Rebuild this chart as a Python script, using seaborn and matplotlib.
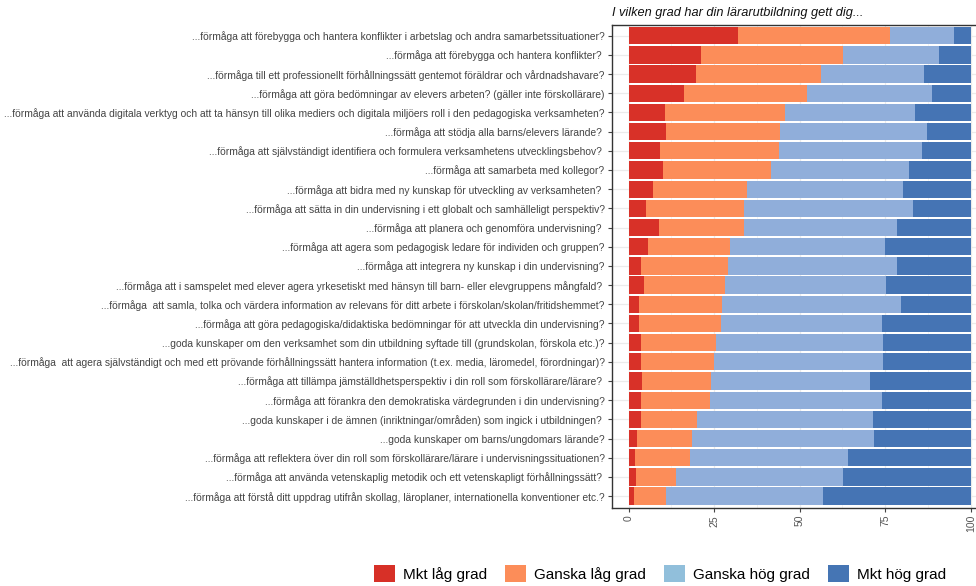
import numpy as np
import pandas as pd
import matplotlib
matplotlib.use("Agg")
import matplotlib.pyplot as plt
from matplotlib.patches import Patch
from matplotlib.ticker import MultipleLocator
import seaborn as sns

labels = [
    "...förmåga att förebygga och hantera konflikter i arbetslag och andra samarbetssituationer?",
    "...förmåga att förebygga och hantera konflikter? ",
    "...förmåga till ett professionellt förhållningssätt gentemot föräldrar och vårdnadshavare?",
    "...förmåga att göra bedömningar av elevers arbeten? (gäller inte förskollärare)",
    "...förmåga att använda digitala verktyg och att ta hänsyn till olika mediers och digitala miljöers roll i den pedagogiska verksamheten?",
    "...förmåga att stödja alla barns/elevers lärande? ",
    "...förmåga att självständigt identifiera och formulera verksamhetens utvecklingsbehov? ",
    "...förmåga att samarbeta med kollegor?",
    "...förmåga att bidra med ny kunskap för utveckling av verksamheten? ",
    "...förmåga att sätta in din undervisning i ett globalt och samhälleligt perspektiv?",
    "...förmåga att planera och genomföra undervisning? ",
    "...förmåga att agera som pedagogisk ledare för individen och gruppen?",
    "...förmåga att integrera ny kunskap i din undervisning?",
    "...förmåga att i samspelet med elever agera yrkesetiskt med hänsyn till barn- eller elevgruppens mångfald? ",
    "...förmåga  att samla, tolka och värdera information av relevans för ditt arbete i förskolan/skolan/fritidshemmet?",
    "...förmåga att göra pedagogiska/didaktiska bedömningar för att utveckla din undervisning?",
    "...goda kunskaper om den verksamhet som din utbildning syftade till (grundskolan, förskola etc.)?",
    "...förmåga  att agera självständigt och med ett prövande förhållningssätt hantera information (t.ex. media, läromedel, förordningar)?",
    "...förmåga att tillämpa jämställdhetsperspektiv i din roll som förskollärare/lärare? ",
    "...förmåga att förankra den demokratiska värdegrunden i din undervisning?",
    "...goda kunskaper i de ämnen (inriktningar/områden) som ingick i utbildningen? ",
    "...goda kunskaper om barns/ungdomars lärande?",
    "...förmåga att reflektera över din roll som förskollärare/lärare i undervisningssituationen?",
    "...förmåga att använda vetenskaplig metodik och ett vetenskapligt förhållningssätt? ",
    "...förmåga att förstå ditt uppdrag utifrån skollag, läroplaner, internationella konventioner etc.?",
]

mkt_lag = [32.0, 21.1, 19.6, 16.3, 10.7, 11.0, 9.2, 10.1, 7.2, 5.2, 9.0, 5.6, 3.7,
           4.4, 3.0, 3.0, 3.7, 3.7, 4.0, 3.5, 3.7, 2.5, 1.9, 2.2, 1.7]
ganska_lag = [44.5, 41.7, 36.5, 35.8, 35.1, 33.3, 34.9, 31.6, 27.4, 28.4, 24.6, 23.9, 25.3,
              23.9, 24.3, 24.1, 21.7, 21.2, 20.2, 20.4, 16.4, 16.0, 15.9, 11.7, 9.3]
ganska_hog = [18.6, 27.9, 30.2, 36.5, 38.0, 42.9, 41.6, 40.2, 45.7, 49.5, 44.8, 45.3, 49.4,
              46.9, 52.4, 47.1, 49.0, 49.5, 46.5, 50.3, 51.3, 53.2, 46.4, 48.8, 45.7]
mkt_hog = [4.9, 9.3, 13.7, 11.4, 16.2, 12.8, 14.3, 18.1, 19.7, 16.9, 21.6, 25.2, 21.6,
           24.8, 20.3, 25.8, 25.6, 25.6, 29.3, 25.8, 28.6, 28.3, 35.8, 37.3, 43.3]

levels = ["Mkt låg grad", "Ganska låg grad", "Ganska hög grad", "Mkt hög grad"]
bar_colors = ["#D83128", "#FC8D59", "#90AEDA", "#4574B4"]
legend_colors = ["#D73027", "#FC8D59", "#91BFDB", "#4575B4"]
title = "I vilken grad har din lärarutbildning gett dig..."
xticks = [0, 25, 50, 75, 100]

df = pd.DataFrame({"label": labels, levels[0]: mkt_lag, levels[1]: ganska_lag,
                   levels[2]: ganska_hog, levels[3]: mkt_hog})
cum = df[levels].cumsum(axis=1)
cum["label"] = df["label"]

W, H = 976, 586
fig = plt.figure(figsize=(W / 100, H / 100), dpi=100)
left_px, top_px, bottom_px = 611.5, 25, 508
x0_px, x100_px = 628.3, 970.7
ppu = (x100_px - x0_px) / 100
right_px = x0_px + 105 * ppu
ax = fig.add_axes([left_px / W, 1 - bottom_px / H, (right_px - left_px) / W, (bottom_px - top_px) / H])

for lev, col in zip(reversed(levels), reversed(bar_colors)):
    sns.barplot(data=cum, x=lev, y="label", order=labels, color=col, orient="h",
                width=0.9, linewidth=0, saturation=1, errorbar=None, ax=ax, zorder=2)

ax.set_xlim(-5, 105)
ax.set_ylim(24.62, -0.56)
ax.set_xlabel("")
ax.set_ylabel("")
ax.set_xticks(xticks)
ax.set_xticklabels([str(t) for t in xticks], rotation=90, fontsize=7.5, color="#555555",
                   family="Liberation Sans")
ax.xaxis.set_minor_locator(MultipleLocator(12.5))
ax.set_axisbelow(True)
ax.grid(True, which="major", axis="both", color="#EBEBEB", linewidth=0.9, zorder=0)
ax.grid(True, which="minor", axis="x", color="#F3F3F3", linewidth=0.6, zorder=0)
ax.tick_params(axis="x", which="minor", length=0)
ax.tick_params(axis="both", which="major", length=3, width=0.8, color="#444444", pad=2)

for t in ax.get_yticklabels():
    t.set_fontfamily(["Liberation Sans", "DejaVu Sans"])
    t.set_fontsize(7.4)
    t.set_color("#444444")

for s in ax.spines.values():
    s.set_color("#333333")
    s.set_linewidth(1.0)

fig.text(612 / W, 1 - 13 / H, title, fontsize=9.2, style="italic", color="#111111",
         family="Liberation Sans", ha="left", va="center")

handles = [Patch(facecolor=c, edgecolor="none", label=l) for c, l in zip(legend_colors, levels)]
fig.legend(handles=handles, loc="center", bbox_to_anchor=(660 / W, 1 - 573.5 / H), ncol=4,
           frameon=False, prop={"family": "Liberation Sans", "size": 11},
           handlelength=1.37, handleheight=1.37, handletextpad=0.52, columnspacing=1.2,
           borderpad=0, borderaxespad=0)

fig.savefig("out.png", dpi=100, facecolor="white")
